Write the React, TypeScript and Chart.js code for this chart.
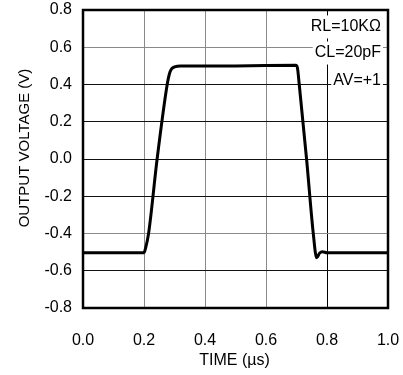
import React, { useEffect, useRef } from "react";
import { Chart, registerables } from "chart.js";

Chart.register(...registerables);

const timeUs = [0, 0.2, 0.205, 0.215, 0.243, 0.276, 0.283, 0.29, 0.3, 0.32, 0.5, 0.698, 0.703, 0.709, 0.733, 0.755, 0.766, 0.776, 0.785, 0.8, 1.0];
const outputVoltage = [-0.503, -0.503, -0.48, -0.4, 0.0, 0.4, 0.455, 0.483, 0.494, 0.5, 0.5, 0.503, 0.49, 0.4, 0.0, -0.4, -0.53, -0.505, -0.498, -0.503, -0.503];
const xTicks = [0, 0.2, 0.4, 0.6, 0.8, 1.0];
const yTicks = [-0.8, -0.6, -0.4, -0.2, 0, 0.2, 0.4, 0.6, 0.8];
const notes = ["RL=10KΩ", "CL=20pF", "AV=+1"];
const noteValues = [0.709, 0.569, 0.419];
const xTitle = "TIME (µs)";
const yTitle = "OUTPUT VOLTAGE (V)";

const FONT = "'Liberation Sans', Arial, sans-serif";

const near = (a: number, b: number) => Math.abs(a - b) < 1e-6;

const overlay = {
  id: "overlay",
  afterDatasetsDraw(chart: any) {
    const { ctx, chartArea, scales } = chart;
    ctx.save();
    ctx.font = `16px ${FONT}`;
    ctx.textAlign = "right";
    ctx.textBaseline = "middle";
    const right = chartArea.right - 7;
    notes.forEach((t, i) => {
      const y = scales.y.getPixelForValue(noteValues[i]);
      const w = ctx.measureText(t).width;
      ctx.fillStyle = "#fff";
      ctx.fillRect(right - w - 2, y - 11.5, w + 4, 23);
      ctx.fillStyle = "#000";
      ctx.fillText(t, right, y);
    });
    ctx.strokeStyle = "#000";
    ctx.lineWidth = 2.5;
    ctx.strokeRect(chartArea.left, chartArea.top, chartArea.right - chartArea.left, chartArea.bottom - chartArea.top);
    ctx.fillStyle = "#000";
    ctx.textAlign = "center";
    ctx.textBaseline = "middle";
    ctx.font = `16px ${FONT}`;
    ctx.fillText(xTitle, (chartArea.left + chartArea.right) / 2 - 1, 361);
    ctx.translate(25, 148);
    ctx.rotate(-Math.PI / 2);
    ctx.font = `15px ${FONT}`;
    ctx.fillText(yTitle, 0, 0);
    ctx.restore();
  },
};

export default function App() {
  const ref = useRef<HTMLCanvasElement>(null);
  useEffect(() => {
    if (!ref.current) return;
    const chart = new Chart(ref.current, {
      type: "line",
      data: {
        datasets: [
          {
            data: timeUs.map((x, i) => ({ x, y: outputVoltage[i] })),
            borderColor: "#000",
            borderWidth: 3,
            pointRadius: 0,
            fill: false,
            cubicInterpolationMode: "monotone",
          },
        ],
      },
      options: {
        animation: false,
        responsive: false,
        events: [],
        layout: { padding: { left: 0, top: 10, right: 15, bottom: 0 } },
        plugins: { legend: { display: false }, tooltip: { enabled: false } },
        scales: {
          x: {
            type: "linear",
            min: 0,
            max: 1,
            afterBuildTicks: (s: any) => {
              s.ticks = xTicks.map((v) => ({ value: v }));
            },
            afterFit: (s: any) => {
              s.height = 67;
              s.paddingLeft = 0;
              s.paddingRight = 0;
            },
            ticks: {
              padding: 23,
              color: "#000",
              font: { family: FONT, size: 16 },
              callback: (v: any) => Number(v).toFixed(1),
            },
            grid: {
              drawTicks: false,
              lineWidth: 1,
              color: (c: any) => {
                const v = c.tick?.value ?? 0;
                return near(v, 0.8) ? "#000" : "#8a8a8a";
              },
            },
            border: { display: false },
          },
          y: {
            type: "linear",
            min: -0.8,
            max: 0.8,
            afterBuildTicks: (s: any) => {
              s.ticks = yTicks.map((v) => ({ value: v }));
            },
            afterFit: (s: any) => {
              s.width = 83;
              s.paddingTop = 0;
              s.paddingBottom = 0;
            },
            ticks: {
              padding: 11,
              color: "#000",
              font: { family: FONT, size: 16 },
              callback: (v: any) => Number(v).toFixed(1),
            },
            grid: {
              drawTicks: false,
              lineWidth: 1,
              color: (c: any) => {
                const v = c.tick?.value ?? 0;
                return near(v, 0.6) || near(v, -0.4) ? "#8a8a8a" : "#111";
              },
            },
            border: { display: false },
          },
        },
      },
      plugins: [overlay],
    });
    return () => chart.destroy();
  }, []);
  return (
    <div style={{ position: "fixed", left: 0, top: 0, width: 403, height: 375, background: "#fff" }}>
      <canvas ref={ref} width={403} height={375} style={{ width: 403, height: 375, display: "block" }} />
    </div>
  );
}
